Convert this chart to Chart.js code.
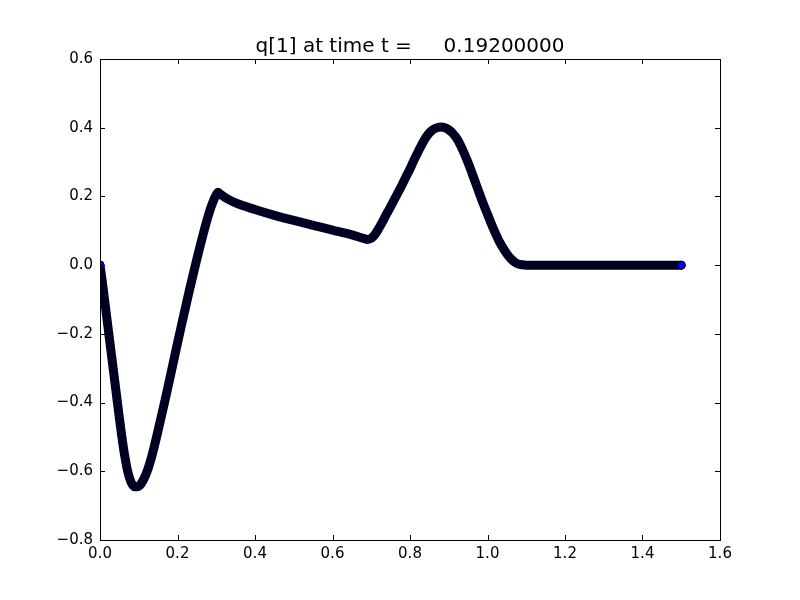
<!DOCTYPE html>
<html lang="en">
<head>
  <meta charset="UTF-8" />
  <title>q[1] at time t</title>
  <script src="https://cdn.jsdelivr.net/npm/chart.js"></script>
  <style>
    body {
      margin: 0;
      background: #fff;
    }
    canvas {
      display: block;
    }
  </style>
</head>
<body>

  <canvas id="qChart" width="800" height="600"></canvas>

  <script>
    // values
    const xVals = [
      0.000, 0.005, 0.010, 0.015, 0.020, 0.025, 0.030, 0.035, 0.040, 0.045,
      0.050, 0.055, 0.060, 0.065, 0.070, 0.075, 0.080, 0.085, 0.090, 0.095,
      0.100, 0.105, 0.110, 0.115, 0.120, 0.125, 0.130, 0.140, 0.150, 0.160,
      0.170, 0.180, 0.190, 0.200, 0.210, 0.220, 0.230, 0.240, 0.250, 0.260,
      0.270, 0.280, 0.290, 0.300, 0.305, 0.310, 0.320, 0.330, 0.350, 0.400,
      0.450, 0.500, 0.550, 0.600, 0.650, 0.680, 0.690, 0.700, 0.710, 0.720,
      0.730, 0.740, 0.750, 0.760, 0.770, 0.780, 0.790, 0.800, 0.810, 0.820,
      0.830, 0.840, 0.850, 0.860, 0.870, 0.880, 0.890, 0.900, 0.910, 0.920,
      0.930, 0.940, 0.950, 0.960, 0.970, 0.980, 0.990, 1.000, 1.010, 1.020,
      1.030, 1.040, 1.050, 1.060, 1.070, 1.080, 1.090, 1.100, 1.200, 1.300,
      1.400, 1.500
    ];
    const qVals = [
      0.000, -0.040, -0.085, -0.130, -0.175, -0.220, -0.265, -0.310, -0.355, -0.400,
      -0.445, -0.488, -0.528, -0.563, -0.593, -0.615, -0.631, -0.641, -0.645, -0.645,
      -0.643, -0.638, -0.629, -0.618, -0.605, -0.589, -0.571, -0.528, -0.481, -0.432,
      -0.382, -0.331, -0.279, -0.227, -0.176, -0.126, -0.077, -0.029, 0.018, 0.063,
      0.106, 0.146, 0.180, 0.205, 0.212, 0.207, 0.199, 0.192, 0.181, 0.162,
      0.145, 0.130, 0.116, 0.102, 0.088, 0.078, 0.075, 0.078, 0.090, 0.108,
      0.128, 0.150, 0.170, 0.192, 0.213, 0.235, 0.258, 0.280, 0.305, 0.328,
      0.350, 0.370, 0.385, 0.395, 0.400, 0.402, 0.400, 0.394, 0.384, 0.370,
      0.350, 0.325, 0.298, 0.268, 0.237, 0.206, 0.176, 0.148, 0.120, 0.094,
      0.070, 0.050, 0.033, 0.019, 0.009, 0.003, 0.001, 0.000, 0.000, 0.000,
      0.000, 0.000
    ];
    const xTicks = [0.0, 0.2, 0.4, 0.6, 0.8, 1.0, 1.2, 1.4, 1.6];
    const yTicks = [-0.8, -0.6, -0.4, -0.2, 0.0, 0.2, 0.4, 0.6];
    const titleText = 'q[1] at time t =     0.19200000';

    const points = xVals.map((x, i) => ({ x: x, y: qVals[i] }));
    const lastIdx = points.length - 1;

    function fmt(v) {
      if (Math.abs(v) < 1e-9) return '0.0';
      return v.toFixed(1).replace('-', '\u2212');
    }

    // matplotlib-style frame with inward ticks on all four sides
    const framePlugin = {
      id: 'frame',
      afterDatasetsDraw(chart) {
        const { ctx, chartArea: a, scales } = chart;
        const len = 5;
        ctx.save();
        ctx.strokeStyle = '#000';
        ctx.lineWidth = 1;
        ctx.beginPath();
        xTicks.forEach(v => {
          const px = Math.round(scales.x.getPixelForValue(v)) + 0.5;
          ctx.moveTo(px, a.bottom);
          ctx.lineTo(px, a.bottom - len);
          ctx.moveTo(px, a.top);
          ctx.lineTo(px, a.top + len);
        });
        yTicks.forEach(v => {
          const py = Math.round(scales.y.getPixelForValue(v)) + 0.5;
          ctx.moveTo(a.left, py);
          ctx.lineTo(a.left + len, py);
          ctx.moveTo(a.right, py);
          ctx.lineTo(a.right - len, py);
        });
        ctx.stroke();
        ctx.strokeRect(Math.round(a.left) + 0.5, Math.round(a.top) + 0.5,
          Math.round(a.right - a.left), Math.round(a.bottom - a.top));
        ctx.restore();
      }
    };

    const ctx = document.getElementById('qChart').getContext('2d');
    new Chart(ctx, {
      type: 'scatter',
      data: {
        datasets: [{
          data: points,
          showLine: true,
          borderColor: '#000022',
          borderWidth: 9,
          borderCapStyle: 'round',
          borderJoinStyle: 'round',
          cubicInterpolationMode: 'monotone',
          clip: 0,
          pointRadius: c => (c.dataIndex === 0 || c.dataIndex === lastIdx) ? 4 : 0,
          pointBackgroundColor: '#0000ff',
          pointBorderColor: '#000000',
          pointBorderWidth: 1
        }]
      },
      options: {
        responsive: false,
        animation: false,
        devicePixelRatio: 1,
        layout: { padding: { left: 20, right: 0, top: 0, bottom: 0 } },
        plugins: {
          legend: { display: false },
          tooltip: { enabled: false },
          title: {
            display: true,
            text: titleText,
            color: '#000',
            font: { family: 'DejaVu Sans', size: 20, weight: 'normal' },
            padding: { top: 35, bottom: 0 }
          }
        },
        scales: {
          x: {
            type: 'linear',
            min: 0,
            max: 1.6,
            grid: { display: false, drawTicks: false },
            border: { display: false },
            afterBuildTicks: s => { s.ticks = xTicks.map(v => ({ value: v })); },
            afterFit: s => { s.height = 60; },
            ticks: {
              callback: v => fmt(v),
              color: '#000',
              padding: 5,
              maxRotation: 0,
              font: { family: 'DejaVu Sans', size: 15 }
            }
          },
          y: {
            type: 'linear',
            min: -0.8,
            max: 0.6,
            grid: { display: false, drawTicks: false },
            border: { display: false },
            afterBuildTicks: s => { s.ticks = yTicks.map(v => ({ value: v })); },
            afterFit: s => { s.width = 80; },
            ticks: {
              callback: v => fmt(v),
              color: '#000',
              padding: 7,
              font: { family: 'DejaVu Sans', size: 15 }
            }
          },
          // empty right-hand margin so the title centres over the plot
          yRight: {
            type: 'linear',
            position: 'right',
            display: true,
            grid: { display: false, drawTicks: false },
            border: { display: false },
            ticks: { display: false },
            afterFit: s => { s.width = 80; }
          }
        }
      },
      plugins: [framePlugin]
    });
  </script>

</body>
</html>
